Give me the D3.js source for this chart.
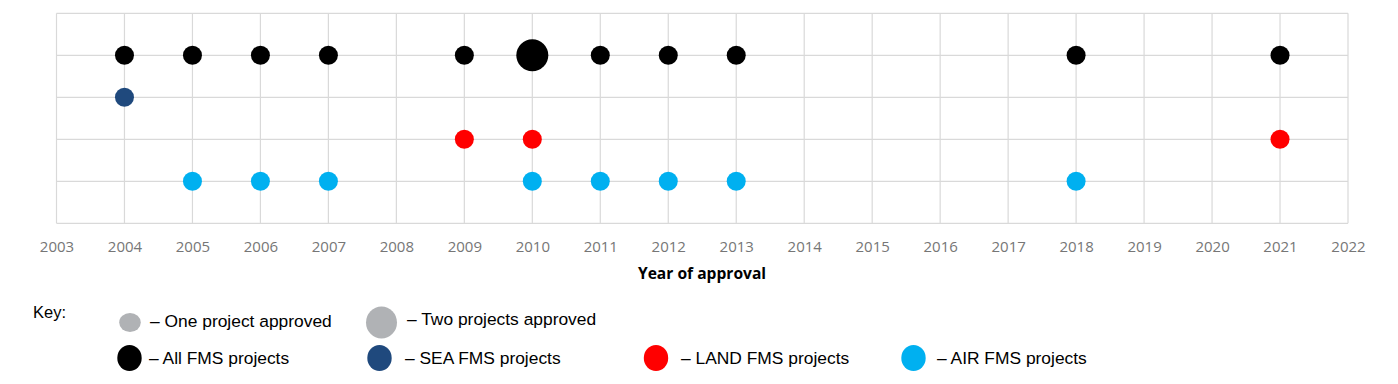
<!DOCTYPE html>
<html>
<head>
<meta charset="utf-8">
<script src="https://cdn.jsdelivr.net/npm/d3@7"></script>
<style>
  html, body { margin: 0; padding: 0; background: #fff; }
  svg { display: block; }
</style>
</head>
<body>
<svg id="chart" width="1398" height="384"></svg>
<script>
// ---------- data ----------
const years = d3.range(2003, 2023);            // tick labels 2003..2022
const seriesNames = ["All FMS", "SEA FMS", "LAND FMS", "AIR FMS"];
const seriesRow = [4, 3, 2, 1];                 // row position of each series
const allYears   = [2004, 2005, 2006, 2007, 2009, 2010, 2011, 2012, 2013, 2018, 2021];
const allCounts  = [1, 1, 1, 1, 1, 2, 1, 1, 1, 1, 1];
const seaYears   = [2004];
const seaCounts  = [1];
const landYears  = [2009, 2010, 2021];
const landCounts = [1, 1, 1];
const airYears   = [2005, 2006, 2007, 2010, 2011, 2012, 2013, 2018];
const airCounts  = [1, 1, 1, 1, 1, 1, 1, 1];
const xTitle = "Year of approval";
const keyTitle = "Key:";
const sizeLabels = ["– One project approved", "– Two projects approved"];
const seriesLabels = ["– All FMS projects", "– SEA FMS projects", "– LAND FMS projects", "– AIR FMS projects"];

// ---------- styles ----------
const colors = ["#000000", "#1f497d", "#ff0000", "#00b0f0"];
const grey = "#b0b2b5";

const svg = d3.select("#chart");
const x = d3.scaleLinear().domain([2003, 2022]).range([56.5, 1348]);
const y = d3.scaleLinear().domain([0, 5]).range([223.3, 13.3]);
const r = d3.scaleSqrt().domain([1, 2]).range([9.5, 16]);

// grid
const grid = svg.append("g").attr("stroke", "#d9d9d9").attr("stroke-width", 1.2);
grid.selectAll("line.v").data(years).join("line")
  .attr("x1", d => x(d)).attr("x2", d => x(d))
  .attr("y1", y(5)).attr("y2", y(0));
grid.selectAll("line.h").data(d3.range(0, 6)).join("line")
  .attr("x1", x(2003)).attr("x2", x(2022))
  .attr("y1", d => y(d)).attr("y2", d => y(d));

// x axis labels
const xAxis = d3.axisBottom(x).tickValues(years).tickFormat(d3.format("d")).tickSize(0).tickPadding(0);
const ax = svg.append("g").attr("transform", `translate(0,${y(0)})`).call(xAxis);
ax.select(".domain").remove();
ax.selectAll("text")
  .attr("y", 28.5).attr("dy", 0)
  .attr("font-family", "'Open Sans', sans-serif")
  .attr("font-size", 15)
  .attr("fill", "#767676");

svg.append("text")
  .attr("x", 702).attr("y", 279)
  .attr("text-anchor", "middle")
  .attr("font-family", "'Open Sans', sans-serif")
  .attr("font-weight", "bold")
  .attr("font-size", 15.6)
  .attr("fill", "#000")
  .text(xTitle);

// points
const seriesData = [
  [allYears, allCounts], [seaYears, seaCounts], [landYears, landCounts], [airYears, airCounts]
];
seriesData.forEach(([ys, cs], i) => {
  svg.append("g").selectAll("circle")
    .data(ys.map((yr, j) => ({ yr, c: cs[j] })))
    .join("circle")
    .attr("cx", d => x(d.yr))
    .attr("cy", y(seriesRow[i]))
    .attr("r", d => r(d.c))
    .attr("fill", colors[i]);
});

// legend
const lf = "'Liberation Sans', Arial, sans-serif";
svg.append("text").attr("x", 33).attr("y", 318)
  .attr("font-family", lf).attr("font-size", 16.5).attr("fill", "#000").text(keyTitle);

const sizeKey = [
  { cx: 130, cy: 322.5, rx: 10.8, ry: 9.5, tx: 150, ty: 327 },
  { cx: 381.5, cy: 322.5, rx: 15.5, ry: 16, tx: 407, ty: 325 }
];
sizeKey.forEach((k, i) => {
  svg.append("ellipse").attr("cx", k.cx).attr("cy", k.cy).attr("rx", k.rx).attr("ry", k.ry).attr("fill", grey);
  svg.append("text").attr("x", k.tx).attr("y", k.ty)
    .attr("font-family", lf).attr("font-size", 17.4).attr("fill", "#000").text(sizeLabels[i]);
});

const colorKey = [
  { cx: 129.5, tx: 149 },
  { cx: 379.5, tx: 405 },
  { cx: 656, tx: 681 },
  { cx: 913.5, tx: 937 }
];
colorKey.forEach((k, i) => {
  svg.append("ellipse").attr("cx", k.cx).attr("cy", 358).attr("rx", 12.2).attr("ry", 13).attr("fill", colors[i]);
  svg.append("text").attr("x", k.tx).attr("y", 364)
    .attr("font-family", lf).attr("font-size", 17.4).attr("fill", "#000").text(seriesLabels[i]);
});
</script>
</body>
</html>
